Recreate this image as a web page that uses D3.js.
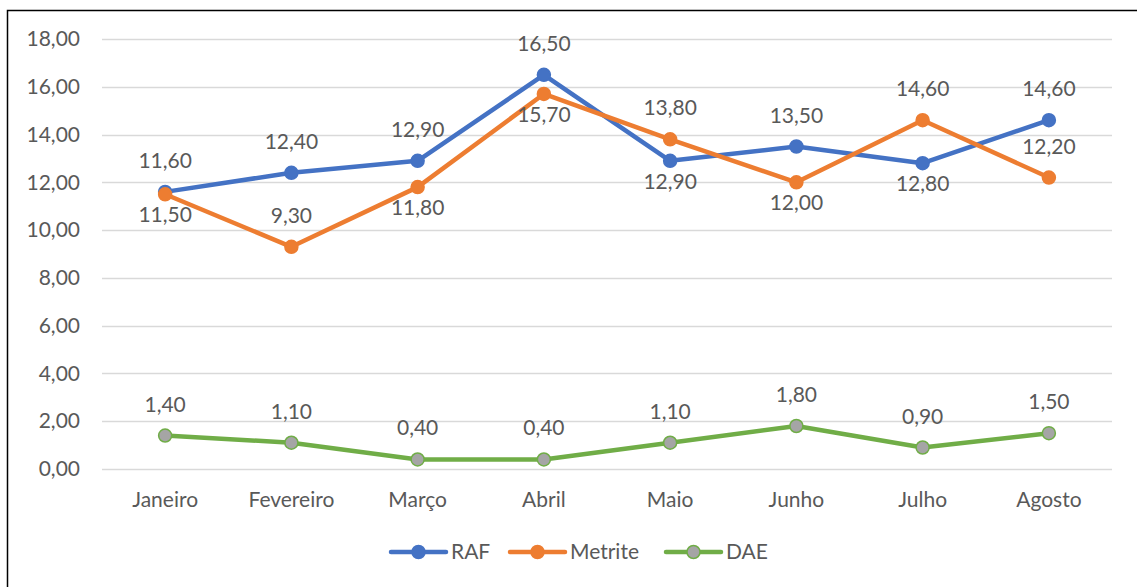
<!DOCTYPE html>
<html>
<head>
<meta charset="utf-8">
<script src="https://cdn.jsdelivr.net/npm/d3@7"></script>
<style>
  body { margin: 0; background: #fff; }
  text { font-family: Lato, "Open Sans", sans-serif; fill: #595959; }
</style>
</head>
<body>
<div id="viz-container"></div>
<script>
// data
let months = ["Janeiro", "Fevereiro", "Março", "Abril", "Maio", "Junho", "Julho", "Agosto"];
let raf = [11.6, 12.4, 12.9, 16.5, 12.9, 13.5, 12.8, 14.6];
let metrite = [11.5, 9.3, 11.8, 15.7, 13.8, 12.0, 14.6, 12.2];
let dae = [1.4, 1.1, 0.4, 0.4, 1.1, 1.8, 0.9, 1.5];
let yTicks = [0, 2, 4, 6, 8, 10, 12, 14, 16, 18];

// where each data label sits (1 = above, -1 = below)
let rafLabelSide = [1, 1, 1, 1, -1, 1, -1, 1];
let metLabelSide = [-1, 1, -1, -1, 1, -1, 1, 1];
let daeLabelSide = [1, 1, 1, 1, 1, 1, 1, 1];

let series = [
  {name: "RAF", values: raf, sides: rafLabelSide, color: "#4472C4", fill: "#4472C4"},
  {name: "Metrite", values: metrite, sides: metLabelSide, color: "#ED7D31", fill: "#ED7D31"},
  {name: "DAE", values: dae, sides: daeLabelSide, color: "#70AD47", fill: "#A5A5A5"}
];

let fs = 21;  // font size, px
let fmt = v => v.toFixed(2).replace(".", ",");

let viz = d3.select("#viz-container")
  .append("svg")
    .attr("width", 1137)
    .attr("height", 587)
;

// chart frame
viz.append("rect")
    .attr("x", 7.5).attr("y", 10.5)
    .attr("width", 1140).attr("height", 600)
    .attr("fill", "none")
    .attr("stroke", "#000")
    .attr("stroke-width", 1.5);

let x = d3.scaleBand().domain(months).range([102, 1112]);
let y = d3.scaleLinear().domain([0, 18]).range([469, 39]);

// gridlines
viz.append("g").selectAll("line").data(yTicks).enter()
  .append("line")
    .attr("x1", 102).attr("x2", 1112)
    .attr("y1", d => Math.round(y(d)) + 0.5)
    .attr("y2", d => Math.round(y(d)) + 0.5)
    .attr("stroke", "#d9d9d9")
    .attr("stroke-width", 1.3);

// y axis
let yAxis = viz.append("g")
    .attr("transform", "translate(80,0)")
    .call(d3.axisLeft(y).tickValues(yTicks).tickFormat(fmt).tickSize(0).tickPadding(0));
yAxis.select(".domain").remove();
yAxis.selectAll("text").attr("font-size", fs).style("font-family", "Lato, sans-serif").attr("fill", "#595959");

// x axis
let xAxis = viz.append("g")
    .attr("transform", "translate(0,491)")
    .call(d3.axisBottom(x).tickSize(0).tickPadding(0));
xAxis.select(".domain").remove();
xAxis.selectAll("text").attr("font-size", fs).attr("dy", "0.75em").style("font-family", "Lato, sans-serif").attr("fill", "#595959");

let cx = (d, i) => x(months[i]) + x.bandwidth() / 2;

let line = d3.line()
    .x((d, i) => cx(d, i))
    .y(d => y(d));

series.forEach(s => {
  let g = viz.append("g");
  g.append("path")
      .attr("d", line(s.values))
      .attr("fill", "none")
      .attr("stroke", s.color)
      .attr("stroke-width", 4.5)
      .attr("stroke-linejoin", "round");
  g.selectAll("circle").data(s.values).enter()
    .append("circle")
      .attr("cx", cx)
      .attr("cy", d => y(d))
      .attr("r", 6.5)
      .attr("fill", s.fill)
      .attr("stroke", s.color)
      .attr("stroke-width", 1.5);
  g.selectAll("text").data(s.values).enter()
    .append("text")
      .attr("x", cx)
      .attr("y", (d, i) => s.sides[i] > 0 ? y(d) - 24 : y(d) + 28)
      .attr("text-anchor", "middle")
      .attr("font-size", fs)
      .text(fmt);
});

// legend
let legendX = [391, 510, 666];
let legend = viz.append("g");
series.forEach((s, i) => {
  let lg = legend.append("g").attr("transform", "translate(" + legendX[i] + ",552)");
  lg.append("line")
      .attr("x1", 0).attr("x2", 55)
      .attr("stroke", s.color).attr("stroke-width", 4.5)
      .attr("stroke-linecap", "round");
  lg.append("circle")
      .attr("cx", 27.5).attr("r", 6.5)
      .attr("fill", s.fill).attr("stroke", s.color).attr("stroke-width", 1.5);
  lg.append("text")
      .attr("x", 60).attr("y", 0)
      .attr("dy", "0.35em")
      .attr("font-size", fs)
      .text(s.name);
});
</script>
</body>
</html>
